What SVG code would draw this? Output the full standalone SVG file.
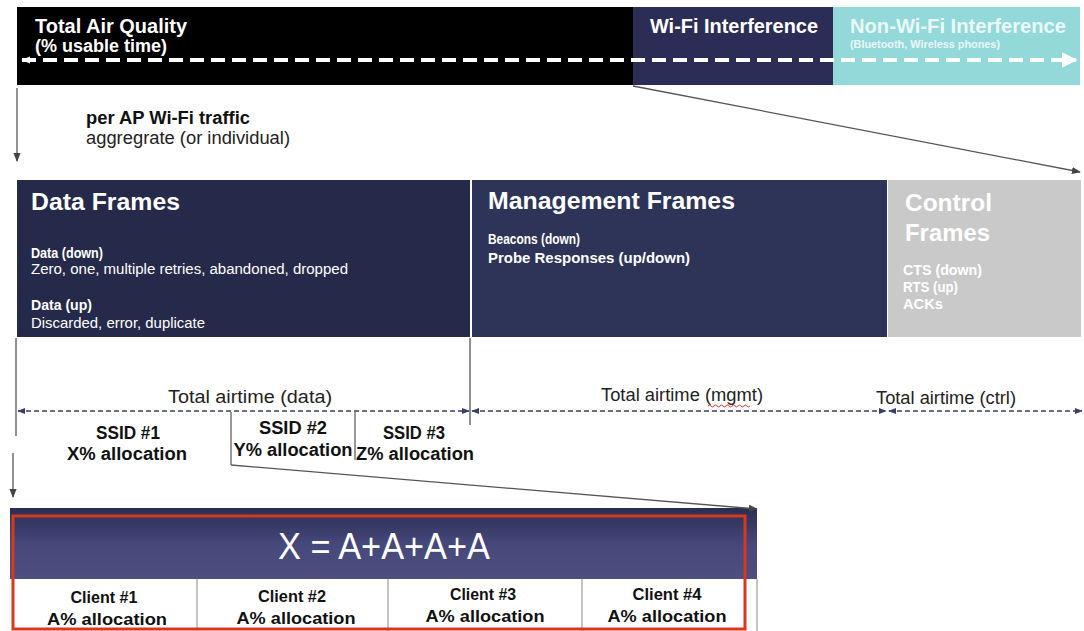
<svg xmlns="http://www.w3.org/2000/svg" width="1084" height="631" viewBox="0 0 1084 631">
<defs>
<style>
text{font-family:"Liberation Sans",Arial,sans-serif}
.b{font-weight:bold}
.w{fill:#ffffff}
.h{font-size:24.5px;font-weight:bold;fill:#ffffff}
.s{font-size:14px}
.lab{font-size:17.5px;fill:#222}
.ssid{font-size:17.5px;font-weight:bold;fill:#111;text-anchor:middle}
.cl{font-size:17px;font-weight:bold;fill:#111;text-anchor:middle}
.dash{stroke:#3b3f66;stroke-width:1.5;stroke-dasharray:5 3;fill:none}
.thin{stroke:#555;stroke-width:1.3;fill:none}
</style>
<marker id="ah" viewBox="0 0 10 10" refX="9" refY="5" markerWidth="8" markerHeight="8" orient="auto-start-reverse" markerUnits="userSpaceOnUse"><path d="M0,1 L10,5 L0,9 z" fill="#3b3f66"/></marker>
<marker id="ag" viewBox="0 0 10 10" refX="9" refY="5" markerWidth="9" markerHeight="9" orient="auto" markerUnits="userSpaceOnUse"><path d="M0,1 L10,5 L0,9 z" fill="#444"/></marker>
<marker id="aw" viewBox="0 0 10 10" refX="9" refY="5" markerWidth="16" markerHeight="16" orient="auto" markerUnits="userSpaceOnUse"><path d="M0,0 L10,5 L0,10 z" fill="#ffffff"/></marker>
<marker id="awl" viewBox="0 0 10 10" refX="9" refY="5" markerWidth="9" markerHeight="9" orient="auto-start-reverse" markerUnits="userSpaceOnUse"><path d="M0,1 L10,5 L0,9 z" fill="#ffffff"/></marker>
<linearGradient id="hdr" x1="0" y1="0" x2="0" y2="1"><stop offset="0" stop-color="#2a2d52"/><stop offset="0.5" stop-color="#45487a"/><stop offset="1" stop-color="#4d507d"/></linearGradient>
</defs>

<g id="air-quality">
<rect x="17" y="7" width="616" height="78" fill="#000"/>
<text x="35" y="33" class="b w" font-size="19.5" textLength="152" lengthAdjust="spacingAndGlyphs">Total Air Quality</text>
<text x="35" y="52" class="b w" font-size="17.5" textLength="132" lengthAdjust="spacingAndGlyphs">(% usable time)</text>
</g>
<g id="wifi-interference">
<rect x="633" y="7" width="200" height="78" fill="#2c2d56"/>
<text x="650" y="33" class="b w" font-size="19.5" textLength="168" lengthAdjust="spacingAndGlyphs">Wi-Fi Interference</text>
</g>
<g id="non-wifi-interference">
<rect x="833" y="7" width="247" height="78" fill="#93d9d9"/>
<text x="850" y="33" class="b" font-size="19.5" fill="#eaf8f8" textLength="216" lengthAdjust="spacingAndGlyphs">Non-Wi-Fi Interference</text>
<text x="850" y="48" class="b" font-size="10.5" fill="#eaf8f8" textLength="150" lengthAdjust="spacingAndGlyphs">(Bluetooth, Wireless phones)</text>
</g>

<g id="data-frames">
<rect x="17" y="180" width="453" height="157" fill="#262a4a"/>
<text x="31" y="210" class="h" textLength="149" lengthAdjust="spacingAndGlyphs">Data Frames</text>
<text x="31" y="258" class="s b w" textLength="72" lengthAdjust="spacingAndGlyphs">Data (down)</text>
<text x="31" y="274" class="s w" textLength="317" lengthAdjust="spacingAndGlyphs">Zero, one, multiple retries, abandoned, dropped</text>
<text x="31" y="310" class="s b w" textLength="61" lengthAdjust="spacingAndGlyphs">Data (up)</text>
<text x="31" y="328" class="s w" textLength="174" lengthAdjust="spacingAndGlyphs">Discarded, error, duplicate</text>
</g>
<g id="management-frames">
<rect x="472" y="180" width="415" height="157" fill="#2e3358"/>
<text x="488" y="209" class="h" textLength="247" lengthAdjust="spacingAndGlyphs">Management Frames</text>
<text x="488" y="244" class="s b w" textLength="92" lengthAdjust="spacingAndGlyphs">Beacons (down)</text>
<text x="488" y="263" class="s b w" textLength="202" lengthAdjust="spacingAndGlyphs">Probe Responses (up/down)</text>
</g>
<g id="control-frames">
<rect x="888" y="180" width="193" height="157" fill="#c9c9c9"/>
<text x="905" y="211" class="h" textLength="87" lengthAdjust="spacingAndGlyphs">Control</text>
<text x="905" y="241" class="h" textLength="85" lengthAdjust="spacingAndGlyphs">Frames</text>
<text x="903" y="275" class="s b w" textLength="79" lengthAdjust="spacingAndGlyphs">CTS (down)</text>
<text x="903" y="292" class="s b w" textLength="55" lengthAdjust="spacingAndGlyphs">RTS (up)</text>
<text x="903" y="309" class="s b w" textLength="40" lengthAdjust="spacingAndGlyphs">ACKs</text>
</g>

<g id="traffic-label">
<text x="86" y="124" class="b" font-size="17.5" fill="#111" textLength="164" lengthAdjust="spacingAndGlyphs">per AP Wi-Fi traffic</text>
<text x="86" y="144" font-size="17.5" fill="#222" textLength="204" lengthAdjust="spacingAndGlyphs">aggregrate (or individual)</text>
</g>

<g id="airtime-labels">
<text x="168" y="403" class="lab" textLength="164" lengthAdjust="spacingAndGlyphs">Total airtime (data)</text>
<text x="601" y="401" class="lab" textLength="162" lengthAdjust="spacingAndGlyphs">Total airtime (mgmt)</text>
<path d="M708,406 q1.5,-2 3,0 t3,0 t3,0 t3,0 t3,0 t3,0 t3,0 t3,0 t3,0 t3,0 t3,0 t3,0 t3,0 t3,0" stroke="#d43a3a" stroke-width="1" fill="none"/>
<text x="876" y="404" class="lab" textLength="140" lengthAdjust="spacingAndGlyphs">Total airtime (ctrl)</text>
</g>

<g id="ssid1">
<text x="128" y="439" class="ssid" textLength="64" lengthAdjust="spacingAndGlyphs">SSID #1</text>
<text x="127" y="460" class="ssid" textLength="120" lengthAdjust="spacingAndGlyphs">X% allocation</text>
</g>
<g id="ssid2">
<path d="M231,412 V465 M355,412 V460" stroke="#555" stroke-width="1.2" fill="none"/>
<text x="293" y="434" class="ssid" textLength="68" lengthAdjust="spacingAndGlyphs">SSID #2</text>
<text x="293" y="456" class="ssid" textLength="119" lengthAdjust="spacingAndGlyphs">Y% allocation</text>
</g>
<g id="ssid3">
<text x="414" y="439" class="ssid" textLength="62" lengthAdjust="spacingAndGlyphs">SSID #3</text>
<text x="415" y="460" class="ssid" textLength="118" lengthAdjust="spacingAndGlyphs">Z% allocation</text>
</g>

<g id="client-breakdown">
<rect x="10" y="508" width="747" height="71" fill="url(#hdr)"/>
<rect x="10" y="579" width="747" height="52" fill="#ffffff"/>
<path d="M197,579 V631 M388,579 V631 M582,579 V631 M757,579 V631" stroke="#888" stroke-width="1" fill="none"/>
<text x="384" y="559" font-size="36" fill="#ffffff" text-anchor="middle" textLength="212" lengthAdjust="spacingAndGlyphs">X = A+A+A+A</text>
<text x="104" y="603" class="cl" textLength="67" lengthAdjust="spacingAndGlyphs">Client #1</text>
<text x="107" y="625" class="cl" textLength="120" lengthAdjust="spacingAndGlyphs">A% allocation</text>
<text x="292" y="602" class="cl" textLength="68" lengthAdjust="spacingAndGlyphs">Client #2</text>
<text x="296" y="624" class="cl" textLength="119" lengthAdjust="spacingAndGlyphs">A% allocation</text>
<text x="483" y="600" class="cl" textLength="66" lengthAdjust="spacingAndGlyphs">Client #3</text>
<text x="485" y="622" class="cl" textLength="119" lengthAdjust="spacingAndGlyphs">A% allocation</text>
<text x="667" y="600" class="cl" textLength="69" lengthAdjust="spacingAndGlyphs">Client #4</text>
<text x="667" y="622" class="cl" textLength="119" lengthAdjust="spacingAndGlyphs">A% allocation</text>
<rect x="13" y="516" width="732" height="113" fill="none" stroke="#d8391e" stroke-width="3"/>
</g>

<g id="connectors">
<line x1="22" y1="60" x2="1076" y2="60" stroke="#ffffff" stroke-width="4" stroke-dasharray="14 7" marker-start="url(#awl)" marker-end="url(#aw)"/>
<line x1="633" y1="86" x2="1080" y2="172" class="thin" marker-end="url(#ag)"/>
<line x1="17" y1="88" x2="17" y2="161" class="thin" marker-end="url(#ag)"/>
<line x1="16" y1="338" x2="16" y2="436" class="thin"/>
<line x1="13" y1="453" x2="13" y2="497" class="thin" marker-end="url(#ag)"/>
<line x1="470" y1="338" x2="470" y2="425" class="thin"/>
<line x1="18" y1="411" x2="469" y2="411" class="dash" marker-start="url(#ah)" marker-end="url(#ah)"/>
<line x1="472" y1="411" x2="886" y2="411" class="dash" marker-start="url(#ah)" marker-end="url(#ah)"/>
<line x1="889" y1="411" x2="1082" y2="411" class="dash" marker-start="url(#ah)" marker-end="url(#ah)"/>
<line x1="231" y1="465" x2="757" y2="509" class="thin" marker-end="url(#ag)"/>
</g>
</svg>
